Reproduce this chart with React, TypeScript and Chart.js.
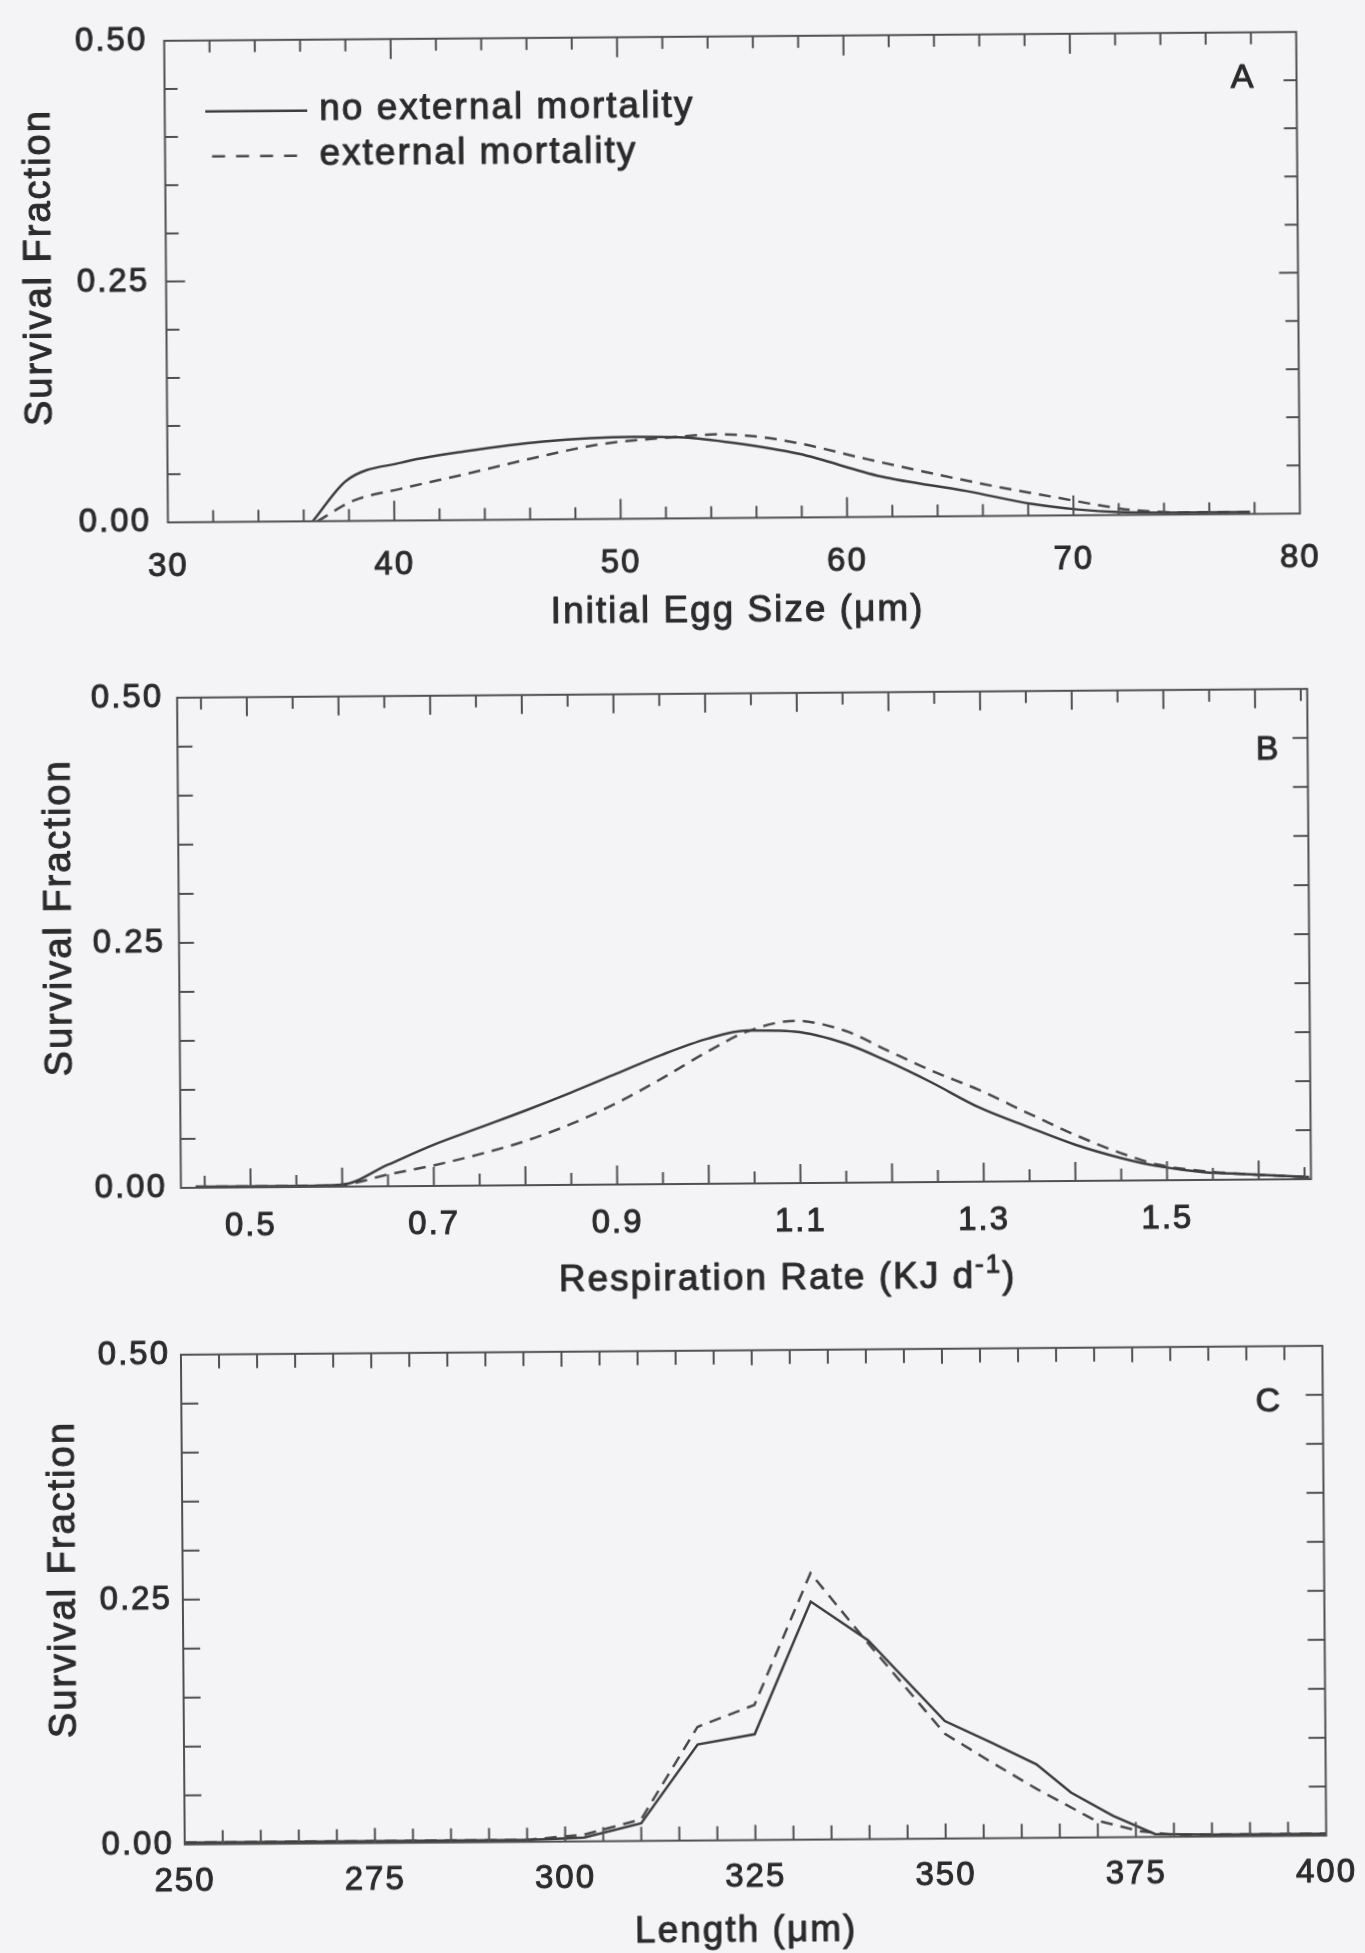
import React, { useEffect, useRef } from "react";
import { Chart, registerables } from "chart.js";

Chart.register(...registerables);

const FONT_FAMILY = '"Liberation Sans", Arial, Helvetica, sans-serif';
const INK = "#2b2b2b";
const SOLID_COLOR = "#3d3d3d";
const DASH_COLOR = "#4a4a4a";
const FRAME_COLOR = "#505050";
const PAGE_BG = "#f4f3f6";
const TEXT_STROKE = 1.0;

const SERIES_LABELS = ["no external mortality", "external mortality"];
const Y_TITLE = "Survival Fraction";
const Y_LABELS = [0, 0.25, 0.5];

// ---- Panel A: initial egg size ----
const eggSizeLabels = [30, 40, 50, 60, 70, 80];
const eggX_noExternal = [36.4, 37.9, 40.3, 43.2, 46.6, 50.6, 52.8, 55.0, 57.9, 61.5, 65.3, 68.2, 70.2, 72.0, 75.0, 77.8];
const eggY_noExternal = [0, 0.042, 0.06, 0.0715, 0.081, 0.085, 0.084, 0.078, 0.066, 0.042, 0.026, 0.012, 0.006, 0.003, 0.002, 0.002];
const eggX_external = [36.6, 38.2, 40.3, 43.2, 46.2, 49.1, 52.1, 54.3, 56.0, 57.9, 60.9, 63.8, 66.8, 69.4, 71.2, 72.6, 75.0, 77.8];
const eggY_external = [0, 0.021, 0.033, 0.048, 0.064, 0.0775, 0.084, 0.087, 0.0845, 0.077, 0.06, 0.0445, 0.0295, 0.018, 0.01, 0.005, 0.002, 0.002];

// ---- Panel B: respiration rate ----
const respLabels = [0.5, 0.7, 0.9, 1.1, 1.3, 1.5];
const respX = [0.44, 0.5, 0.55, 0.6, 0.65, 0.7, 0.75, 0.8, 0.85, 0.9, 0.95, 1.0, 1.043, 1.095, 1.15, 1.195, 1.243, 1.296, 1.35, 1.4, 1.45, 1.49, 1.54, 1.585, 1.655];
const respY_noExternal = [0.001, 0.001, 0.001, 0.002, 0.022, 0.042, 0.059, 0.076, 0.094, 0.113, 0.132, 0.148, 0.156, 0.1545, 0.142, 0.124, 0.102, 0.0755, 0.055, 0.037, 0.023, 0.0144, 0.008, 0.0057, 0.002];
const respY_external = [0.001, 0.001, 0.001, 0.002, 0.012, 0.021, 0.032, 0.045, 0.062, 0.083, 0.108, 0.135, 0.155, 0.1655, 0.155, 0.135, 0.114, 0.0934, 0.069, 0.047, 0.028, 0.016, 0.009, 0.0057, 0.002];

// ---- Panel C: length ----
const lengthLabels = [250, 275, 300, 325, 350, 375, 400];
const lenX_noExternal = [250, 257.5, 265, 272.5, 280, 287.5, 295, 302.5, 310, 317.5, 325, 332.5, 340, 350, 356, 362, 366.5, 372, 377.5, 385, 392.5, 400];
const lenY_noExternal = [0.002, 0.002, 0.002, 0.002, 0.002, 0.002, 0.002, 0.004, 0.018, 0.098, 0.108, 0.243, 0.203, 0.12, 0.098, 0.075, 0.046, 0.022, 0.003, 0.002, 0.002, 0.002];
const lenX_external = [250, 257.5, 265, 272.5, 280, 287.5, 295, 302.5, 310, 317.5, 325, 332.5, 340, 350, 356, 362, 369.5, 375.5, 380, 385, 392.5, 400];
const lenY_external = [0.002, 0.002, 0.002, 0.002, 0.002, 0.002, 0.002, 0.007, 0.022, 0.116, 0.138, 0.272, 0.2, 0.107, 0.078, 0.05, 0.018, 0.006, 0.002, 0.002, 0.002, 0.002];

type TickSpec = { start: number; end: number; step: number; major: number; minorLen: number; majorLen: number };
type TitlePart = { text: string; size: number; rise: number };
type Series = { label: string; xs: number[]; ys: number[]; dashed: boolean };
type PanelSpec = {
  key: string;
  top: number;
  height: number;
  area: { left: number; right: number; top: number; bottom: number };
  xMin: number;
  xMax: number;
  xLabels: number[];
  xDecimals: number;
  xTick: TickSpec;
  yTick: TickSpec;
  series: Series[];
  smooth: boolean;
  letter: string;
  letterDx: number;
  letterDy: number;
  xTitle: TitlePart[];
  xTitleDx: number;
  xTitleDy: number;
  xLabelPad: number;
  yLabelPad: number;
  yTitleDist: number;
  yTitleDy: number;
  legend: boolean;
};

const X_AXIS_H = 110;
const TITLE_SIZE = 37;
const Y_TITLE_SIZE = 38;
const TICK_SIZE = 33;

const panels: PanelSpec[] = [
  {
    key: "A",
    top: 0,
    height: 660,
    area: { left: 171.5, right: 1303.5, top: 30.4, bottom: 518.4 },
    xMin: 30,
    xMax: 80,
    xLabels: eggSizeLabels,
    xDecimals: 0,
    xTick: { start: 32, end: 78, step: 2, major: 10, minorLen: 12, majorLen: 20 },
    yTick: { start: 0.05, end: 0.45, step: 0.05, major: 0.25, minorLen: 13, majorLen: 19 },
    series: [
      { label: SERIES_LABELS[0], xs: eggX_noExternal, ys: eggY_noExternal, dashed: false },
      { label: SERIES_LABELS[1], xs: eggX_external, ys: eggY_external, dashed: true },
    ],
    smooth: true,
    letter: "A",
    letterDx: -54.5,
    letterDy: 46,
    xTitle: [{ text: "Initial Egg Size (\u03bcm)", size: TITLE_SIZE, rise: 0 }],
    xTitleDx: 3,
    xTitleDy: 90,
    xLabelPad: 25,
    yLabelPad: 17,
    yTitleDist: 126,
    yTitleDy: -15,
    legend: true,
  },
  {
    key: "B",
    top: 660,
    height: 660,
    area: { left: 179.3, right: 1309.4, top: 27.5, bottom: 524 },
    xMin: 0.424,
    xMax: 1.657,
    xLabels: respLabels,
    xDecimals: 1,
    xTick: { start: 0.45, end: 1.65, step: 0.05, major: 0.1, minorLen: 12, majorLen: 19 },
    yTick: { start: 0.05, end: 0.45, step: 0.05, major: 0.25, minorLen: 15, majorLen: 15 },
    series: [
      { label: SERIES_LABELS[0], xs: respX, ys: respY_noExternal, dashed: false },
      { label: SERIES_LABELS[1], xs: respX, ys: respY_external, dashed: true },
    ],
    smooth: true,
    letter: "B",
    letterDx: -40.6,
    letterDy: 61,
    xTitle: [
      { text: "Respiration Rate (KJ d", size: TITLE_SIZE, rise: 0 },
      { text: "-1", size: 26, rise: 15 },
      { text: ")", size: TITLE_SIZE, rise: 0 },
    ],
    xTitleDx: 41,
    xTitleDy: 93,
    xLabelPad: 19,
    yLabelPad: 14,
    yTitleDist: 119,
    yTitleDy: -26,
    legend: false,
  },
  {
    key: "C",
    top: 1320,
    height: 633,
    area: { left: 178, right: 1326, top: 21.6, bottom: 520.6 },
    xMin: 250,
    xMax: 400,
    xLabels: lengthLabels,
    xDecimals: 0,
    xTick: { start: 255, end: 395, step: 5, major: 25, minorLen: 14, majorLen: 15 },
    yTick: { start: 0.05, end: 0.45, step: 0.05, major: 0.25, minorLen: 17, majorLen: 17 },
    series: [
      { label: SERIES_LABELS[0], xs: lenX_noExternal, ys: lenY_noExternal, dashed: false },
      { label: SERIES_LABELS[1], xs: lenX_external, ys: lenY_external, dashed: true },
    ],
    smooth: false,
    letter: "C",
    letterDx: -55,
    letterDy: 56,
    xTitle: [{ text: "Length (\u03bcm)", size: TITLE_SIZE, rise: 0 }],
    xTitleDx: -10,
    xTitleDy: 88,
    xLabelPad: 18,
    yLabelPad: 11,
    yTitleDist: 118,
    yTitleDy: -21,
    legend: false,
  },
];

function tickList(t: TickSpec) {
  const n = Math.round((t.end - t.start) / t.step);
  const out: { v: number; major: boolean }[] = [];
  for (let i = 0; i <= n; i++) {
    const v = Math.round((t.start + i * t.step) * 1e6) / 1e6;
    const r = v / t.major;
    out.push({ v, major: Math.abs(r - Math.round(r)) < 1e-6 });
  }
  return out;
}

function paintText(ctx: CanvasRenderingContext2D, text: string, x: number, y: number) {
  ctx.fillText(text, x, y);
  ctx.strokeText(text, x, y);
}

function makeDecor(spec: PanelSpec) {
  return {
    id: "decor" + spec.key,
    beforeDraw(chart: any) {
      chart.ctx.letterSpacing = "2px";
    },
    afterDatasetsDraw(chart: any) {
      const ctx = chart.ctx as CanvasRenderingContext2D & { letterSpacing?: string };
      const a = chart.chartArea;
      const sx = chart.scales.x;
      const sy = chart.scales.y;
      ctx.save();
      ctx.setLineDash([]);
      ctx.strokeStyle = FRAME_COLOR;
      ctx.lineWidth = 2;
      ctx.beginPath();
      for (const t of tickList(spec.xTick)) {
        const px = sx.getPixelForValue(t.v);
        if (px <= a.left + 1 || px >= a.right - 1) continue;
        const len = t.major ? spec.xTick.majorLen : spec.xTick.minorLen;
        ctx.moveTo(px, a.bottom);
        ctx.lineTo(px, a.bottom - len);
        ctx.moveTo(px, a.top);
        ctx.lineTo(px, a.top + len);
      }
      for (const t of tickList(spec.yTick)) {
        const py = sy.getPixelForValue(t.v);
        const len = t.major ? spec.yTick.majorLen : spec.yTick.minorLen;
        ctx.moveTo(a.left, py);
        ctx.lineTo(a.left + len, py);
        ctx.moveTo(a.right, py);
        ctx.lineTo(a.right - len, py);
      }
      ctx.stroke();
      ctx.strokeRect(a.left, a.top, a.right - a.left, a.bottom - a.top);

      ctx.fillStyle = INK;
      ctx.strokeStyle = INK;
      ctx.lineWidth = TEXT_STROKE;
      ctx.lineJoin = "round";

      // panel letter
      ctx.letterSpacing = "0px";
      ctx.font = `34px ${FONT_FAMILY}`;
      ctx.textAlign = "center";
      ctx.textBaseline = "middle";
      paintText(ctx, spec.letter, a.right + spec.letterDx, a.top + spec.letterDy);

      // y-axis title
      ctx.letterSpacing = "2px";
      ctx.save();
      ctx.translate(a.left - spec.yTitleDist, (a.top + a.bottom) / 2 + spec.yTitleDy);
      ctx.rotate(-Math.PI / 2);
      ctx.font = `${Y_TITLE_SIZE}px ${FONT_FAMILY}`;
      ctx.textAlign = "center";
      ctx.textBaseline = "middle";
      paintText(ctx, Y_TITLE, 0, 0);
      ctx.restore();

      // x-axis title (with optional superscript part)
      ctx.textAlign = "left";
      ctx.textBaseline = "alphabetic";
      let total = 0;
      const widths = spec.xTitle.map((p) => {
        ctx.font = `${p.size}px ${FONT_FAMILY}`;
        const w = ctx.measureText(p.text).width;
        total += w;
        return w;
      });
      let x = (a.left + a.right) / 2 + spec.xTitleDx - total / 2;
      const baseY = a.bottom + spec.xTitleDy + TITLE_SIZE * 0.358;
      spec.xTitle.forEach((p, i) => {
        ctx.font = `${p.size}px ${FONT_FAMILY}`;
        paintText(ctx, p.text, x, baseY - p.rise);
        x += widths[i];
      });

      // legend
      if (spec.legend) {
        const rows = [a.top + 71, a.top + 116];
        chart.data.datasets.forEach((ds: any, i: number) => {
          const y = rows[i];
          ctx.strokeStyle = ds.borderColor;
          ctx.lineWidth = ds.borderWidth;
          ctx.setLineDash(ds.borderDash && ds.borderDash.length ? [13, 11] : []);
          ctx.beginPath();
          ctx.moveTo(a.left + (i === 0 ? 40.5 : 47), y);
          ctx.lineTo(a.left + 142.5, y);
          ctx.stroke();
          ctx.setLineDash([]);
          ctx.fillStyle = INK;
          ctx.strokeStyle = INK;
          ctx.lineWidth = TEXT_STROKE;
          ctx.font = `${TITLE_SIZE}px ${FONT_FAMILY}`;
          ctx.letterSpacing = "2px";
          paintText(ctx, ds.label, a.left + 154.5, y + TITLE_SIZE * 0.26);
        });
      }
      ctx.restore();
    },
  };
}

function Panel({ spec }: { spec: PanelSpec }) {
  const ref = useRef<HTMLCanvasElement | null>(null);
  useEffect(() => {
    const canvas = ref.current;
    if (!canvas) return;
    const tickFont = { family: FONT_FAMILY, size: TICK_SIZE };
    const chart = new Chart(canvas, {
      type: "line",
      data: {
        datasets: spec.series.map((s) => ({
          label: s.label,
          data: s.xs.map((x, i) => ({ x, y: s.ys[i] })),
          borderColor: s.dashed ? DASH_COLOR : SOLID_COLOR,
          borderWidth: 2.5,
          borderDash: s.dashed ? [12, 8] : [],
          pointRadius: 0,
          fill: false,
          tension: spec.smooth ? 0.4 : 0,
          cubicInterpolationMode: spec.smooth ? "monotone" : "default",
        })),
      },
      options: {
        animation: false,
        responsive: false,
        maintainAspectRatio: false,
        devicePixelRatio: 1,
        events: [],
        layout: {
          padding: {
            left: 0,
            top: spec.area.top,
            right: 1365 - spec.area.right,
            bottom: spec.height - X_AXIS_H - spec.area.bottom,
          },
        },
        plugins: { legend: { display: false }, tooltip: { enabled: false }, title: { display: false } },
        scales: {
          x: {
            type: "linear",
            position: "bottom",
            min: spec.xMin,
            max: spec.xMax,
            grid: { display: false, drawTicks: false },
            border: { display: false },
            ticks: {
              padding: spec.xLabelPad,
              color: INK,
              textStrokeColor: INK,
              textStrokeWidth: TEXT_STROKE,
              font: tickFont,
              maxRotation: 0,
              autoSkip: false,
              callback: (v: any) => Number(v).toFixed(spec.xDecimals),
            },
            afterBuildTicks: (s: any) => {
              s.ticks = spec.xLabels.map((v) => ({ value: v }));
            },
            afterFit: (s: any) => {
              s.height = X_AXIS_H;
            },
          },
          y: {
            type: "linear",
            position: "left",
            min: 0,
            max: 0.5,
            grid: { display: false, drawTicks: false },
            border: { display: false },
            ticks: {
              padding: spec.yLabelPad,
              color: INK,
              textStrokeColor: INK,
              textStrokeWidth: TEXT_STROKE,
              font: tickFont,
              autoSkip: false,
              callback: (v: any) => Number(v).toFixed(2),
            },
            afterBuildTicks: (s: any) => {
              s.ticks = Y_LABELS.map((v) => ({ value: v }));
            },
            afterFit: (s: any) => {
              s.width = spec.area.left;
            },
          },
        },
      } as any,
      plugins: [makeDecor(spec)],
    });
    return () => chart.destroy();
  }, [spec]);
  return (
    <canvas
      ref={ref}
      width={1365}
      height={spec.height}
      style={{ position: "absolute", left: 0, top: spec.top, width: 1365, height: spec.height, display: "block" }}
    />
  );
}

export default function App() {
  useEffect(() => {
    document.body.style.margin = "0";
    document.body.style.background = PAGE_BG;
  }, []);
  return (
    <div
      style={{
        position: "absolute",
        left: 0,
        top: 0,
        width: 1365,
        height: 1953,
        overflow: "hidden",
        background: PAGE_BG,
      }}
    >
      <div
        style={{
          position: "absolute",
          left: 0,
          top: 0,
          width: 1365,
          height: 1953,
          transform: "rotate(-0.447deg)",
          transformOrigin: "682.5px 976.5px",
        }}
      >
        {panels.map((p) => (
          <Panel key={p.key} spec={p} />
        ))}
      </div>
    </div>
  );
}
